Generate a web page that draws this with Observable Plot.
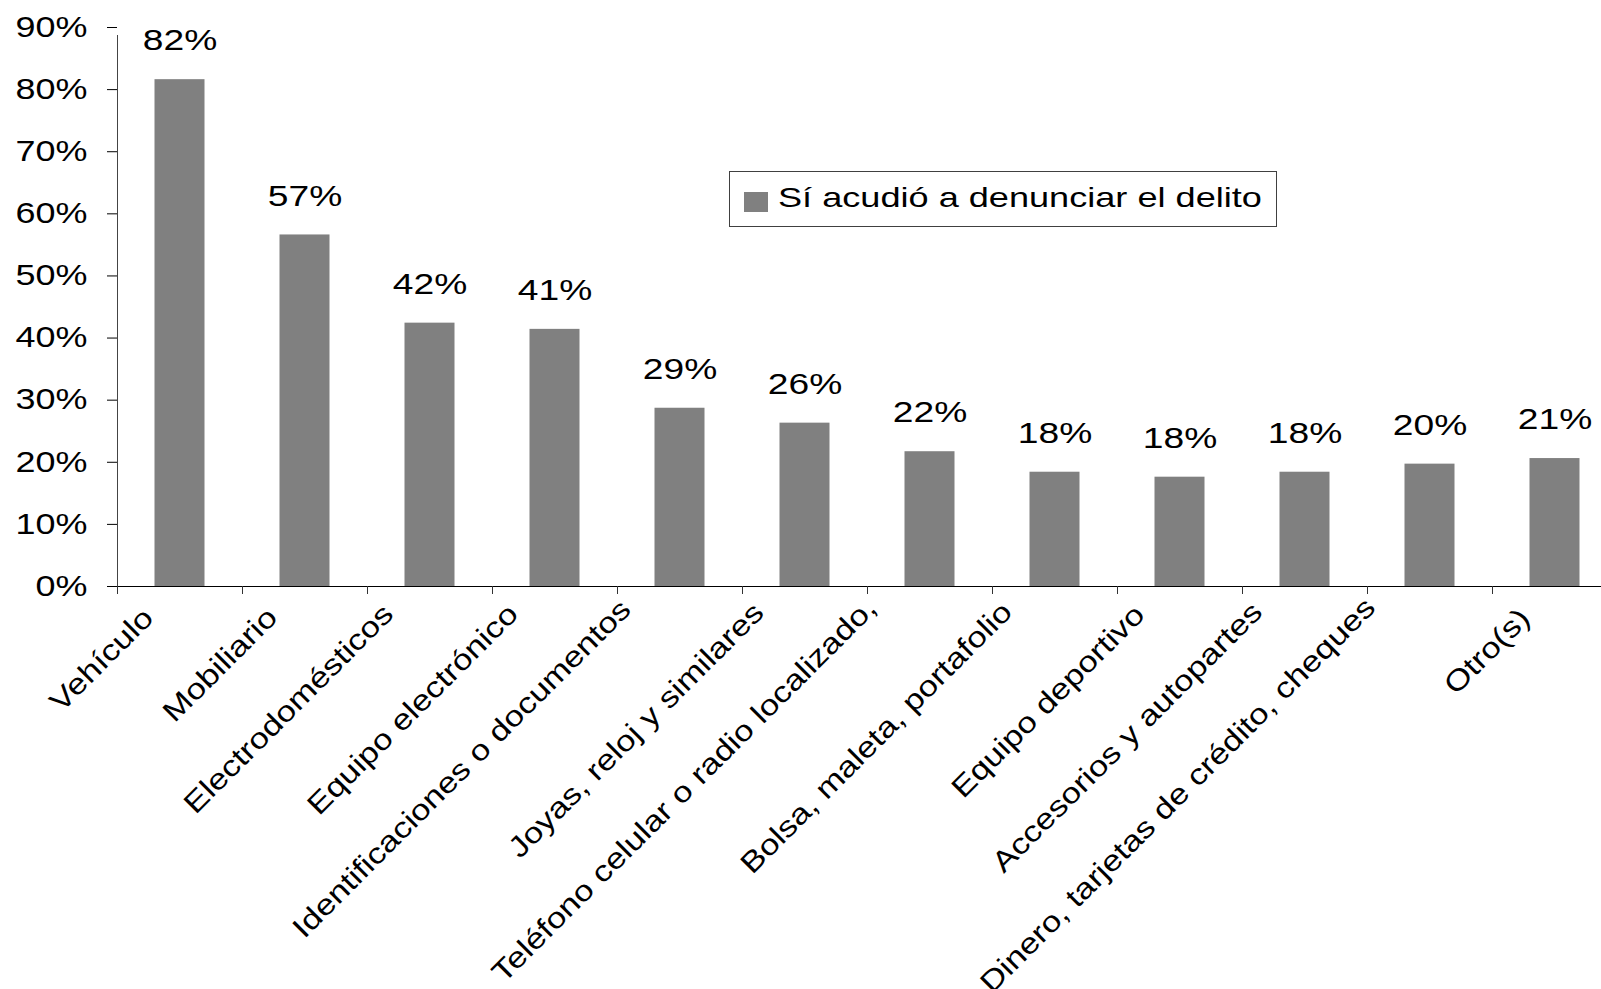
<!DOCTYPE html>
<html>
<head>
<meta charset="utf-8">
<script src="https://cdn.jsdelivr.net/npm/d3@7"></script>
<script src="https://cdn.jsdelivr.net/npm/@observablehq/plot@0.6"></script>
<style>
  html, body { margin: 0; padding: 0; background: #fff; overflow: hidden; }
  #wrap { position: relative; width: 1601px; height: 989px; }
  #legend { position: absolute; left: 729px; top: 171px; width: 548px; height: 56px;
            box-sizing: border-box; border: 1px solid #404040; background: #fff;
            font-family: "Liberation Sans", Arial, sans-serif; color: #000; }
  #legend .sw { position: absolute; left: 14px; top: 20px; width: 24px; height: 20px; background: #808080; }
  #legend .lb { position: absolute; left: 48px; top: 12px; font-size: 28px; line-height: 28px;
                white-space: nowrap; transform: scaleX(1.29); transform-origin: 0 50%; }
</style>
</head>
<body>
<div id="wrap"></div>
<script>
// ---- data ----
const categories = [
  "Vehículo", "Mobiliario", "Electrodomésticos", "Equipo electrónico",
  "Identificaciones o documentos", "Joyas, reloj y similares",
  "Teléfono celular o radio localizado,", "Bolsa, maleta, portafolio",
  "Equipo deportivo", "Accesorios y autopartes",
  "Dinero, tarjetas de crédito, cheques", "Otro(s)"
];
const values = [0.816, 0.566, 0.424, 0.414, 0.287, 0.263, 0.217, 0.184, 0.176, 0.184, 0.197, 0.206];
const yTicks = [0, 0.1, 0.2, 0.3, 0.4, 0.5, 0.6, 0.7, 0.8, 0.9];
const seriesName = "Sí acudió a denunciar el delito";

// ---- layout ----
const W = 1601, H = 989;
const mLeft = 117, mRight = -16, mTop = 27, mBottom = 403;
const step = (W - mRight - mLeft) / categories.length;
const barColor = "#808080";
const fmt = d3.format(".0%");
const FONT = "Liberation Sans, Arial, sans-serif";

const data = categories.map((c, i) => ({cat: c, v: values[i]}));

const chart = Plot.plot({
  width: W, height: H,
  marginLeft: mLeft, marginRight: mRight, marginTop: mTop, marginBottom: mBottom,
  style: {fontFamily: FONT, fontSize: "29px", color: "#000", background: "#fff"},
  x: {type: "band", domain: categories, padding: 0, axis: null},
  y: {domain: [0, yTicks[yTicks.length - 1]], label: null},
  marks: [
    Plot.barY(data, {x: "cat", y: "v", fill: barColor, insetLeft: step * 0.3, insetRight: step * 0.3}),
    // value labels
    Plot.text(data, {x: "cat", y: "v", text: d => fmt(d.v), dy: -39, lineAnchor: "middle",
                     fontSize: 30, fill: "#000"}),
    // y axis
    Plot.axisY({ticks: yTicks, tickFormat: fmt, tickSize: 10, tickPadding: 20, fontSize: 29, label: null}),
    Plot.ruleX([categories[0]], {x: d => d, dx: -step / 2, y1: yTicks[yTicks.length - 1],
                                 insetBottom: -8, stroke: "#444"}),
    // x axis line and ticks at category boundaries
    Plot.ruleY([0], {stroke: "#000"}),
    Plot.ruleX(categories, {x: d => d, dx: -step / 2, y1: 0, insetBottom: -8, stroke: "#333"}),
    // rotated category labels
    Plot.text(categories, {x: d => d, frameAnchor: "bottom", text: d => d, rotate: -45,
                           textAnchor: "end", lineAnchor: "bottom",
                           fontSize: 29, fill: "#000"})
  ]
});

const wrap = document.getElementById("wrap");
wrap.appendChild(chart);

// horizontal glyph stretch and label placement, as in the reference typography
chart.querySelectorAll("text").forEach(el => {
  const t = el.getAttribute("transform") || "";
  const rotated = /rotate/.test(t);
  const S = rotated ? 1.19 : 1.24;
  const xa = el.getAttribute("x"), ya = el.getAttribute("y");
  let tx = 0, ty = 0;
  if (xa && !/em$/.test(xa)) { tx = +xa; el.removeAttribute("x"); }
  if (ya && !/em$/.test(ya)) { ty = +ya; el.removeAttribute("y"); }
  let pre = "";
  if (rotated) {
    const L = el.getComputedTextLength() * S;
    pre = `translate(${-16 - 0.068 * L},${36.4 - 0.025 * L}) `;
  }
  el.setAttribute("transform", `${pre}${t} translate(${tx},${ty}) scale(${S},1)`);
});

const legend = document.createElement("div");
legend.id = "legend";
legend.innerHTML = `<div class="sw"></div><div class="lb"></div>`;
legend.querySelector(".sw").style.background = barColor;
legend.querySelector(".lb").textContent = seriesName;
wrap.appendChild(legend);
</script>
</body>
</html>
